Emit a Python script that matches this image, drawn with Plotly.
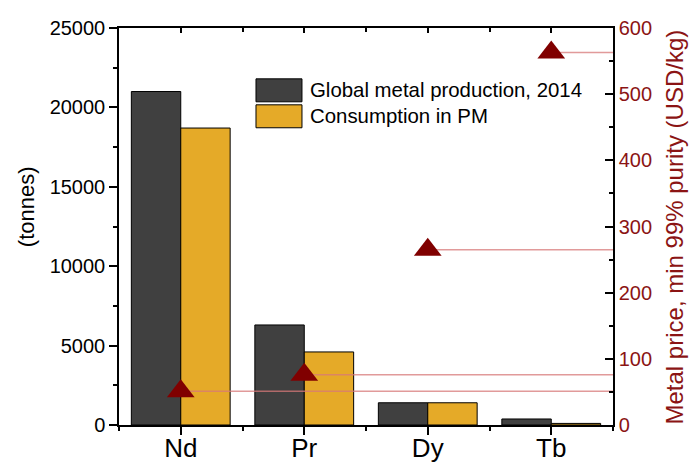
import plotly.graph_objects as go

# Rare-earth elements shown on the category axis
elements = ["Nd", "Pr", "Dy", "Tb"]

# Global metal production in 2014 and consumption in permanent magnets (tonnes)
production_2014 = [21000, 6300, 1400, 380]
consumption_pm = [18700, 4600, 1400, 100]

# Metal price, min 99% purity (USD/kg)
metal_price = [51, 76, 265, 563]

legend_names = ["Global metal production, 2014", "Consumption in PM"]
y_left_ticks = [0, 5000, 10000, 15000, 20000, 25000]
y_right_ticks = [0, 100, 200, 300, 400, 500, 600]

DARK = "#404040"
GOLD = "#E5AA28"
MAROON = "#800000"
RED_TEXT = "#8B1414"
FONT = "Liberation Sans, Arial, sans-serif"

xpos = list(range(len(elements)))
x_end = len(elements) - 0.5

fig = go.Figure()

fig.add_trace(go.Bar(
    x=xpos, y=production_2014, name=legend_names[0],
    marker=dict(color=DARK, line=dict(color="black", width=1)),
    xaxis="x", yaxis="y", showlegend=False,
))
fig.add_trace(go.Bar(
    x=xpos, y=consumption_pm, name=legend_names[1],
    marker=dict(color=GOLD, line=dict(color="black", width=1)),
    xaxis="x", yaxis="y", showlegend=False,
))

# Guide lines from each price marker to the price axis
for xi, p in zip(xpos, metal_price):
    fig.add_trace(go.Scatter(
        x=[xi, x_end], y=[p, p], mode="lines",
        line=dict(color="rgba(215,120,120,0.75)", width=1.5),
        xaxis="x2", yaxis="y2", showlegend=False, hoverinfo="skip",
    ))

fig.add_trace(go.Scatter(
    x=xpos, y=metal_price, mode="markers",
    marker=dict(symbol="triangle-up", size=24, color=MAROON),
    xaxis="x2", yaxis="y2", showlegend=False,
))

axis_common = dict(showline=True, linecolor="black", linewidth=1.5, automargin=False,
                   tickcolor="black", tickwidth=1.5, showgrid=False, zeroline=False)
minor_x = dict(tickvals=[-0.5, 0.5, 1.5, 2.5, 3.5], ticklen=4, tickwidth=1.5, tickcolor="black")

fig.update_layout(
    width=689, height=463,
    margin=dict(l=119, r=76, t=28, b=38),
    paper_bgcolor="white", plot_bgcolor="white",
    barmode="group", bargap=0.2, bargroupgap=0,
    font=dict(family=FONT, color="black"),
    xaxis=dict(**axis_common, range=[-0.5, x_end], tickmode="array",
               tickvals=xpos, ticktext=elements, ticks="outside", ticklen=8,
               ticklabelstandoff=-9,
               tickfont=dict(size=26), minor=dict(**minor_x, ticks="outside")),
    xaxis2=dict(**axis_common, range=[-0.5, x_end], overlaying="x", side="top",
                anchor="y", tickmode="array", tickvals=xpos, ticks="inside",
                ticklen=5, showticklabels=False,
                minor=dict(**minor_x, ticks="inside")),
    yaxis=dict(**axis_common, range=[0, 25000], tickmode="array",
               tickvals=y_left_ticks, tickformat="d", ticks="outside", ticklen=8,
               tickfont=dict(size=20),
               minor=dict(dtick=2500, ticks="outside", ticklen=4, tickwidth=1.5,
                          tickcolor="black")),
    yaxis2=dict(**axis_common, range=[0, 600], overlaying="y", side="right",
                anchor="x", tickmode="array", tickvals=y_right_ticks,
                ticks="inside", ticklen=8, tickfont=dict(size=20, color=RED_TEXT),
                minor=dict(dtick=50, ticks="inside", ticklen=4, tickwidth=1.5,
                           tickcolor="black")),
)

# Axis titles
fig.add_annotation(text="(tonnes)", xref="paper", yref="paper", x=-0.188, y=0.549,
                   xanchor="center", yanchor="middle",
                   textangle=-90, showarrow=False, font=dict(size=22, color="black"))
fig.add_annotation(text="Metal price, min 99% purity (USD/kg)", xref="paper", yref="paper",
                   x=1.1255, y=0.5, xanchor="center", yanchor="middle",
                   textangle=-90, showarrow=False,
                   font=dict(size=24, color=RED_TEXT))

# Legend with large swatches
legend_rows = [(legend_names[0], DARK, 0.8719, 0.8141), (legend_names[1], GOLD, 0.8065, 0.7487)]
for label, color, y_top, y_bot in legend_rows:
    fig.add_shape(type="rect", xref="paper", yref="paper", x0=0.2773, x1=0.3704,
                  y0=y_bot, y1=y_top, fillcolor=color, line=dict(color="black", width=1))
    fig.add_annotation(text=label, xref="paper", yref="paper", x=0.3826,
                       y=(y_top + y_bot) / 2, xanchor="left", yanchor="middle",
                       showarrow=False, font=dict(size=20.4, color="black"))

fig.write_html("out.html")
